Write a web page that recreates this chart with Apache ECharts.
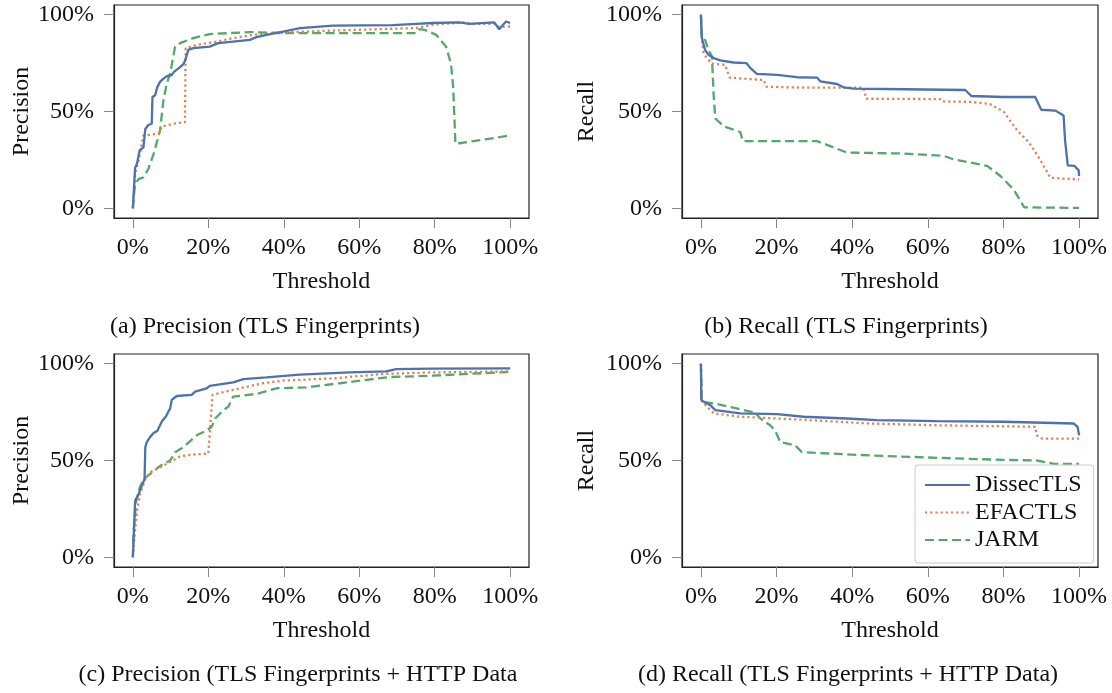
<!DOCTYPE html>
<html>
<head>
<meta charset="utf-8">
<script src="https://cdn.jsdelivr.net/npm/echarts@6/dist/echarts.min.js"></script>
<style>
html,body{margin:0;padding:0;background:#fff;}
#chart{width:1112px;height:693px;}
</style>
</head>
<body>
<div id="chart"></div>
<script>
// ---- Data (threshold, value) ----
const seriesNames = ['DissecTLS', 'EFACTLS', 'JARM'];
const xTicks = [0, 0.2, 0.4, 0.6, 0.8, 1.0];
const yTicks = [0, 0.5, 1.0];
const captions = [
  '(a) Precision (TLS Fingerprints)',
  '(b) Recall (TLS Fingerprints)',
  '(c) Precision (TLS Fingerprints + HTTP Data',
  '(d) Recall (TLS Fingerprints + HTTP Data)'
];

// (a) Precision, TLS fingerprints
const precTlsDissec = [[0,0],[0.006,0.21],[0.011,0.23],[0.018,0.30],[0.028,0.315],[0.033,0.41],[0.041,0.43],[0.05,0.437],[0.052,0.575],[0.059,0.584],[0.065,0.627],[0.072,0.653],[0.081,0.67],[0.09,0.683],[0.103,0.688],[0.109,0.705],[0.121,0.723],[0.134,0.745],[0.138,0.76],[0.147,0.818],[0.16,0.827],[0.204,0.835],[0.226,0.853],[0.266,0.861],[0.31,0.87],[0.328,0.884],[0.354,0.896],[0.398,0.913],[0.443,0.931],[0.53,0.943],[0.689,0.946],[0.751,0.953],[0.795,0.957],[0.865,0.96],[0.892,0.953],[0.958,0.96],[0.971,0.925],[0.989,0.965],[1,0.957]];
const precTlsEfac = [[0,0],[0.006,0.177],[0.015,0.246],[0.021,0.307],[0.028,0.376],[0.068,0.385],[0.077,0.423],[0.107,0.437],[0.138,0.445],[0.14,0.827],[0.169,0.844],[0.222,0.861],[0.266,0.879],[0.319,0.896],[0.398,0.908],[0.53,0.918],[0.751,0.931],[0.795,0.948],[0.874,0.96],[0.9,0.953],[0.962,0.953],[0.971,0.936],[1,0.939]];
const precTlsJarm = [[0,0],[0.002,0.055],[0.006,0.125],[0.015,0.151],[0.028,0.16],[0.041,0.203],[0.055,0.281],[0.072,0.402],[0.081,0.558],[0.09,0.645],[0.099,0.697],[0.107,0.783],[0.112,0.835],[0.125,0.853],[0.16,0.879],[0.204,0.9],[0.31,0.91],[0.398,0.905],[0.53,0.905],[0.751,0.905],[0.76,0.925],[0.773,0.922],[0.804,0.896],[0.83,0.835],[0.843,0.749],[0.849,0.627],[0.855,0.333],[0.865,0.336],[1,0.376]];

// (b) Recall, TLS fingerprints
const recTlsDissec = [[0,1],[0.002,0.887],[0.005,0.861],[0.011,0.818],[0.02,0.793],[0.034,0.776],[0.051,0.764],[0.086,0.753],[0.12,0.75],[0.131,0.724],[0.148,0.694],[0.201,0.689],[0.254,0.677],[0.307,0.675],[0.316,0.655],[0.36,0.642],[0.377,0.625],[0.404,0.618],[0.536,0.615],[0.699,0.611],[0.715,0.58],[0.8,0.575],[0.884,0.575],[0.9,0.509],[0.937,0.505],[0.959,0.479],[0.963,0.349],[0.97,0.222],[0.988,0.219],[0.999,0.196],[1,0.167]];
const recTlsEfac = [[0,1],[0.003,0.87],[0.007,0.8],[0.016,0.776],[0.029,0.747],[0.064,0.741],[0.076,0.675],[0.095,0.672],[0.166,0.663],[0.173,0.628],[0.272,0.623],[0.43,0.623],[0.437,0.566],[0.633,0.564],[0.638,0.552],[0.713,0.55],[0.765,0.538],[0.801,0.498],[0.836,0.403],[0.867,0.342],[0.893,0.264],[0.924,0.158],[0.959,0.153],[1,0.149]];
const recTlsJarm = [[0,1],[0.003,0.87],[0.007,0.861],[0.011,0.87],[0.02,0.818],[0.029,0.785],[0.034,0.575],[0.038,0.464],[0.06,0.424],[0.104,0.394],[0.111,0.347],[0.307,0.347],[0.386,0.288],[0.536,0.283],[0.642,0.271],[0.668,0.253],[0.757,0.219],[0.792,0.167],[0.827,0.097],[0.855,0.005],[1,0.002]];

// (c) Precision, TLS fingerprints + HTTP data
const precHttpDissec = [[0,0],[0.002,0.1],[0.006,0.292],[0.015,0.326],[0.024,0.37],[0.031,0.405],[0.033,0.569],[0.037,0.595],[0.046,0.622],[0.055,0.642],[0.065,0.653],[0.077,0.703],[0.088,0.729],[0.094,0.752],[0.099,0.769],[0.103,0.813],[0.116,0.833],[0.156,0.839],[0.165,0.856],[0.196,0.873],[0.204,0.885],[0.266,0.903],[0.293,0.92],[0.354,0.929],[0.442,0.944],[0.574,0.955],[0.671,0.96],[0.698,0.972],[0.795,0.974],[1,0.976]];
const precHttpEfac = [[0,0],[0.004,0.1],[0.011,0.24],[0.019,0.326],[0.033,0.405],[0.046,0.439],[0.09,0.483],[0.125,0.521],[0.16,0.531],[0.2,0.535],[0.211,0.839],[0.266,0.865],[0.345,0.899],[0.398,0.913],[0.53,0.924],[0.671,0.948],[0.795,0.955],[1,0.96]];
const precHttpJarm = [[0,0],[0.002,0.135],[0.009,0.292],[0.018,0.359],[0.028,0.403],[0.046,0.431],[0.072,0.472],[0.099,0.5],[0.112,0.543],[0.134,0.569],[0.169,0.63],[0.196,0.656],[0.209,0.674],[0.218,0.717],[0.24,0.76],[0.253,0.778],[0.266,0.83],[0.328,0.844],[0.381,0.873],[0.46,0.878],[0.548,0.899],[0.68,0.931],[0.795,0.938],[0.892,0.948],[1,0.957]];

// (d) Recall, TLS fingerprints + HTTP data
const recHttpDissec = [[0,1],[0.001,0.813],[0.007,0.804],[0.025,0.786],[0.038,0.76],[0.069,0.752],[0.104,0.743],[0.201,0.74],[0.272,0.726],[0.386,0.717],[0.466,0.708],[0.624,0.703],[0.801,0.7],[0.986,0.691],[0.996,0.674],[1,0.63]];
const recHttpEfac = [[0,1],[0.003,0.804],[0.016,0.778],[0.034,0.743],[0.104,0.726],[0.254,0.712],[0.448,0.691],[0.624,0.682],[0.884,0.674],[0.888,0.63],[0.902,0.613],[1,0.613]];
const recHttpJarm = [[0,1],[0.002,0.804],[0.042,0.792],[0.095,0.769],[0.144,0.747],[0.157,0.717],[0.183,0.682],[0.196,0.656],[0.21,0.595],[0.249,0.578],[0.267,0.543],[0.448,0.526],[0.624,0.514],[0.801,0.503],[0.888,0.5],[0.933,0.483],[1,0.483]];

// ---- Chart ----
const FONT = 'Liberation Serif';
const FS = 24;
const colors = ['#4c72b0', '#dd8452', '#55a868'];
const lineTypes = ['solid', [2.2, 3], [9, 4.5]];
const panels = [
  {yName: 'Precision', data: [precTlsDissec, precTlsEfac, precTlsJarm]},
  {yName: 'Recall', data: [recTlsDissec, recTlsEfac, recTlsJarm]},
  {yName: 'Precision', data: [precHttpDissec, precHttpEfac, precHttpJarm]},
  {yName: 'Recall', data: [recHttpDissec, recHttpEfac, recHttpJarm]}
];
const gridBoxes = [
  {left: 114, top: 5, width: 415, height: 213},
  {left: 682, top: 5, width: 416, height: 213},
  {left: 114, top: 354, width: 415, height: 213},
  {left: 682, top: 354, width: 416, height: 213}
];
const captionPos = [[265, 327], [846, 327], [298, 675], [848, 675]];
const pct = v => Math.round(v * 100) + '%';

const grids = [], xAxes = [], yAxes = [], series = [];
panels.forEach((p, i) => {
  grids.push(Object.assign({show: true, borderColor: '#222', borderWidth: 1.2, backgroundColor: '#fff'}, gridBoxes[i]));
  xAxes.push({
    type: 'value', gridIndex: i, min: -0.05, max: 1.05,
    name: 'Threshold', nameLocation: 'middle', nameGap: 52,
    nameTextStyle: {fontFamily: FONT, fontSize: FS, color: '#111'},
    axisLine: {show: true, onZero: false, lineStyle: {color: '#222', width: 1.2}},
    axisTick: {show: true, inside: false, length: 10, customValues: xTicks, lineStyle: {color: '#888', width: 1}},
    axisLabel: {customValues: xTicks, formatter: pct, margin: 18, fontFamily: FONT, fontSize: FS, color: '#111'},
    splitLine: {show: false}
  });
  yAxes.push({
    type: 'value', gridIndex: i, min: -0.05, max: 1.05,
    name: p.yName, nameLocation: 'middle', nameGap: (i % 2 === 0 ? 79 : 83), nameRotate: 90,
    nameTextStyle: {fontFamily: FONT, fontSize: FS, color: '#111'},
    axisLine: {show: true, onZero: false, lineStyle: {color: '#222', width: 1.2}},
    axisTick: {show: true, inside: false, length: 10, customValues: yTicks, lineStyle: {color: '#888', width: 1}},
    axisLabel: {customValues: yTicks, formatter: pct, margin: 20, fontFamily: FONT, fontSize: FS, color: '#111'},
    splitLine: {show: false}
  });
  p.data.forEach((d, k) => {
    series.push({
      name: seriesNames[k], type: 'line', xAxisIndex: i, yAxisIndex: i,
      data: d, symbol: 'none', showSymbol: false, smooth: false, animation: false,
      color: colors[k],
      lineStyle: {color: colors[k], width: 2.3, type: lineTypes[k]},
      z: 3 - k
    });
  });
});

const chart = echarts.init(document.getElementById('chart'), null, {renderer: 'canvas'});
chart.setOption({
  animation: false,
  backgroundColor: '#fff',
  textStyle: {fontFamily: FONT},
  grid: grids, xAxis: xAxes, yAxis: yAxes, series: series,
  legend: {
    data: seriesNames, orient: 'vertical', left: 915, top: 465,
    itemWidth: 45, itemHeight: 14, itemGap: 3.5,
    padding: [8, 12, 11, 9],
    backgroundColor: 'rgba(255,255,255,0.85)', borderColor: '#ccc', borderWidth: 1, borderRadius: 3,
    itemStyle: {opacity: 0},
    textStyle: {fontFamily: FONT, fontSize: FS, color: '#111'}
  },
  graphic: captions.map((c, i) => ({
    type: 'text', x: captionPos[i][0], y: captionPos[i][1],
    style: {text: c, font: FS + 'px "Liberation Serif"', fill: '#111', align: 'center', verticalAlign: 'middle'}
  }))
});
</script>
</body>
</html>
